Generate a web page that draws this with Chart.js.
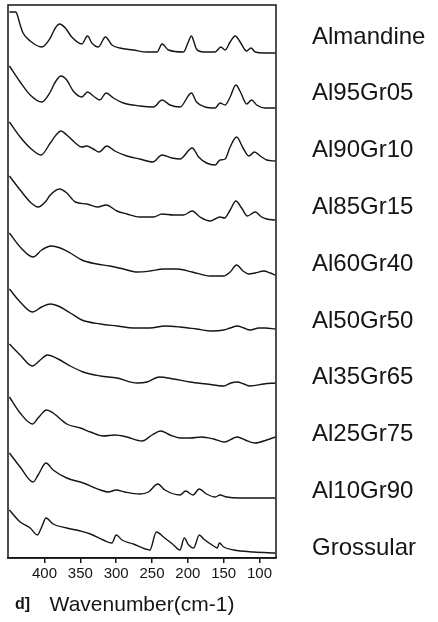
<!DOCTYPE html>
<html>
<head>
<meta charset="utf-8">
<script src="https://cdn.jsdelivr.net/npm/chart.js@4.4.1/dist/chart.umd.min.js"></script>
<style>
  html, body { margin: 0; padding: 0; background: #fff; }
</style>
</head>
<body>
<canvas id="spectra" width="438" height="622"></canvas>
<script>
// stacked far-IR spectra, almandine - grossular join (arbitrary units, offset)
const sampleNames = ['Almandine', 'Al95Gr05', 'Al90Gr10', 'Al85Gr15', 'Al60Gr40',
  'Al50Gr50', 'Al35Gr65', 'Al25Gr75', 'Al10Gr90', 'Grossular'];
const xTicks = [400, 350, 300, 250, 200, 150, 100];

const almandineX = [449, 441, 439, 434, 430, 420, 404, 392, 385, 379, 371, 362, 348, 340, 334, 325, 315, 306, 295, 276,
  257, 243, 236, 227, 206, 200, 195, 191, 188, 178, 162, 154, 148, 141, 134, 127, 118, 112, 106, 94, 78];
const almandineY = [546, 546, 545, 533, 525, 517, 511, 520, 530, 534, 530, 521, 514, 522, 515, 511, 521, 513, 510, 508,
  506, 506, 514, 508, 506, 515, 522, 515, 509, 506, 506, 511, 508, 516, 522, 516, 507, 510, 506, 505, 505];

const al95X = [449, 434, 420, 404, 392, 385, 377, 369, 360, 348, 340, 332, 323, 314, 304, 290, 267, 248, 236, 225,
  211, 195, 188, 176, 162, 155, 148, 141, 133, 126, 118, 111, 104, 92, 78];
const al95Y = [492, 476, 463, 456, 466, 476, 482, 478, 467, 461, 466, 462, 458, 465, 460, 455, 452, 451, 458, 453,
  451, 465, 456, 451, 450, 455, 453, 461, 473, 465, 454, 458, 453, 450, 450];

const al90X = [449, 434, 420, 405, 392, 384, 377, 369, 357, 348, 341, 332, 324, 313, 302, 285, 267, 249, 236, 222,
  211, 194, 185, 174, 162, 155, 148, 141, 132, 123, 115, 107, 99, 90, 78];
const al90Y = [436, 421, 410, 403, 415, 423, 427, 423, 415, 411, 412, 409, 406, 412, 407, 402, 399, 396, 403, 400,
  399, 410, 401, 395, 393, 398, 399, 411, 421, 410, 402, 406, 402, 398, 397];

const al85X = [449, 434, 420, 409, 399, 392, 379, 369, 357, 341, 326, 314, 299, 285, 267, 248, 236, 220, 206, 194,
  183, 169, 162, 155, 149, 141, 133, 125, 117, 106, 97, 90, 78];
const al85Y = [382, 368, 356, 351, 356, 363, 369, 365, 356, 354, 351, 353, 347, 344, 341, 341, 344, 343, 343, 347,
  341, 337, 339, 341, 340, 348, 357, 350, 342, 346, 341, 339, 338];

const al60X = [449, 434, 416, 404, 391, 378, 364, 348, 327, 309, 290, 271, 253, 234, 215, 194, 169, 150, 141, 132,
  123, 115, 106, 94, 85, 78];
const al60Y = [325, 311, 301, 308, 312, 310, 305, 298, 294, 292, 289, 286, 287, 289, 289, 286, 282, 282, 286, 293,
  287, 284, 285, 287, 285, 283];

const al50X = [449, 434, 417, 404, 392, 381, 364, 348, 322, 299, 276, 253, 232, 211, 188, 166, 150, 141, 131, 122,
  113, 101, 92, 78];
const al50Y = [269, 256, 246, 251, 254, 252, 245, 238, 234, 232, 230, 230, 232, 231, 229, 227, 228, 230, 232, 230,
  228, 230, 230, 229];

const al35X = [449, 434, 417, 406, 396, 381, 364, 346, 322, 299, 271, 257, 240, 220, 197, 174, 150, 140, 131, 122,
  113, 94, 78];
const al35Y = [214, 203, 192, 198, 203, 199, 192, 186, 182, 180, 175, 176, 181, 179, 176, 174, 172, 175, 176, 174,
  172, 174, 175];

const al25X = [449, 434, 417, 409, 397, 388, 369, 350, 336, 318, 302, 285, 264, 250, 238, 225, 211, 197, 181, 164,
  149, 136, 131, 120, 106, 90, 78];
const al25Y = [161, 145, 134, 140, 148, 145, 134, 130, 126, 122, 123, 121, 117, 123, 127, 123, 120, 120, 121, 119,
  116, 120, 121, 118, 115, 118, 121];

const al10X = [449, 434, 416, 409, 398, 388, 369, 346, 322, 311, 300, 288, 267, 255, 242, 232, 211, 203, 193, 184,
  174, 162, 155, 146, 127, 78];
const al10Y = [105, 91, 76, 83, 95, 88, 80, 75, 68, 66, 68, 66, 64, 66, 74, 68, 63, 67, 63, 69,
  64, 61, 63, 61, 60, 60];

const grossularX = [449, 434, 420, 410, 404, 398, 388, 369, 350, 336, 318, 306, 300, 292, 276, 253, 244, 234, 220, 211,
  205, 199, 192, 184, 178, 164, 159, 156, 150, 136, 108, 78];
const grossularY = [48, 36, 30, 23, 31, 40, 34, 30, 27, 24, 18, 15, 23, 18, 14, 8, 26, 21, 13, 8,
  20, 13, 10, 23, 19, 12, 10, 15, 11, 8, 6, 5];

const seriesX = [almandineX, al95X, al90X, al85X, al60X, al50X, al35X, al25X, al10X, grossularX];
const seriesY = [almandineY, al95Y, al90Y, al85Y, al60Y, al50Y, al35Y, al25Y, al10Y, grossularY];

const FONT = '"Liberation Sans", Arial, sans-serif';
const INK = '#151515';

const sideLabels = {
  id: 'sideLabels',
  afterDraw(chart) {
    const { ctx, chartArea } = chart;
    ctx.save();
    // box round the plot
    ctx.strokeStyle = INK;
    ctx.lineWidth = 1.5;
    ctx.strokeRect(chartArea.left, chartArea.top, chartArea.width, chartArea.height);

    ctx.fillStyle = INK;
    ctx.textBaseline = 'middle';
    ctx.textAlign = 'left';
    ctx.font = '24px ' + FONT;
    const step = (chartArea.height - 42) / (sampleNames.length - 1);
    sampleNames.forEach((name, i) => {
      ctx.fillText(name, chartArea.right + 36, chartArea.top + 32 + i * step);
    });

    ctx.font = 'bold 16px ' + FONT;
    ctx.fillText('d]', 15, chart.height - 17);
    ctx.restore();
  }
};

new Chart(document.getElementById('spectra'), {
  type: 'line',
  data: {
    datasets: sampleNames.map((name, i) => ({
      label: name,
      data: seriesX[i].map((x, j) => ({ x: x, y: seriesY[i][j] })),
      borderColor: INK,
      borderWidth: 1.4,
      pointRadius: 0,
      fill: false,
      cubicInterpolationMode: 'monotone'
    }))
  },
  options: {
    responsive: false,
    animation: false,
    layout: { padding: { left: 8, top: 5, right: 162, bottom: 0 } },
    plugins: {
      legend: { display: false },
      tooltip: { enabled: false }
    },
    scales: {
      x: {
        type: 'linear',
        reverse: true,
        min: 77,
        max: 451,
        afterBuildTicks: s => { s.ticks = xTicks.map(v => ({ value: v })); },
        afterFit: s => { s.height = 64; },
        grid: { display: true, drawOnChartArea: false, drawTicks: true, tickLength: 5, color: INK, lineWidth: 1.5 },
        border: { display: true, color: INK, width: 1.5 },
        ticks: { color: INK, font: { family: FONT, size: 15 }, padding: 2, maxRotation: 0, autoSkip: false },
        title: {
          display: true,
          text: 'Wavenumber(cm-1)',
          color: INK,
          font: { family: FONT, size: 21 },
          padding: { top: 4, bottom: 4 }
        }
      },
      y: { display: false, min: 0, max: 553 }
    }
  },
  plugins: [sideLabels]
});
</script>
</body>
</html>
